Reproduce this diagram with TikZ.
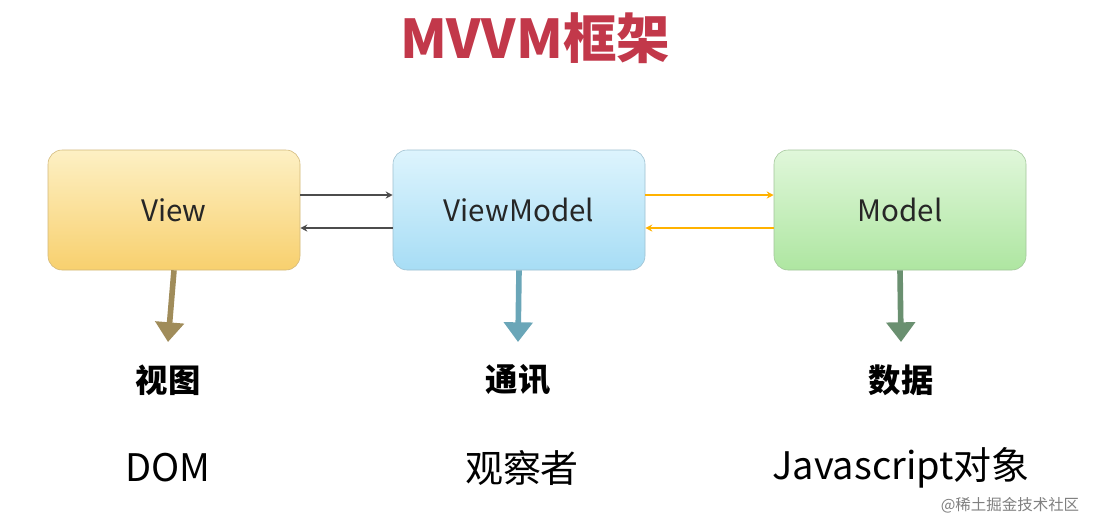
\documentclass[tikz,border=0pt]{standalone}
\usepackage{fontspec}
\setmainfont{Noto Sans CJK SC}
\usetikzlibrary{arrows.meta}
\definecolor{titler}{HTML}{C2384A}
\definecolor{ytop}{HTML}{FDF0C4}\definecolor{ybot}{HTML}{F8D06E}
\definecolor{btop}{HTML}{DDF4FD}\definecolor{bbot}{HTML}{A7DDF5}
\definecolor{gtop}{HTML}{E0F7DA}\definecolor{gbot}{HTML}{AEE6A1}
\tikzset{
  box/.style={rounded corners=10pt,minimum width=252*0.025cm,minimum height=120*0.025cm,font=\fontsize{21}{24}\selectfont,text=black!85},
  thin/.style={-{Stealth[length=5pt,width=5pt,open]},line width=0.8pt},
  down/.style={line width=4pt,-{Triangle[length=14pt,width=20pt]}},
  lab/.style={font=\fontsize{23}{26}\selectfont\bfseries},
  lab2/.style={font=\fontsize{27}{30}\selectfont}
}
\begin{document}
\begin{tikzpicture}[x=0.025cm,y=-0.025cm]
\useasboundingbox[fill=white] (0,0) rectangle (1096,522);
\node[font=\fontsize{38}{40}\selectfont\bfseries,text=titler] (t) at (535,38) {MVVM框架};
\node[box,draw=ybot!80!black!80,top color=ytop,bottom color=ybot] (v) at (174,210) {View};
\node[box,draw=bbot!80!black!80,top color=btop,bottom color=bbot] (vm) at (519,210) {ViewModel};
\node[box,draw=gbot!80!black!80,top color=gtop,bottom color=gbot] (m) at (900,210) {Model};
\draw[thin,draw=black!70] ([yshift=15*0.025cm]v.east) -- ([yshift=15*0.025cm]vm.west);
\draw[thin,draw=black!70] ([yshift=-18*0.025cm]vm.west) -- ([yshift=-18*0.025cm]v.east);
\draw[thin,draw=orange!60!yellow] ([yshift=15*0.025cm]vm.east) -- ([yshift=15*0.025cm]m.west);
\draw[thin,draw=orange!60!yellow] ([yshift=-18*0.025cm]m.west) -- ([yshift=-18*0.025cm]vm.east);
\node[lab] (a1) at (168,380) {视图};
\node[lab] (a2) at (518,380) {通讯};
\node[lab] (a3) at (901,380) {数据};
\draw[down,draw={rgb,255:red,160;green,140;blue,90}] (v.south) -- (168,342);
\draw[down,draw={rgb,255:red,106;green,166;blue,184}] (vm.south) -- (518,342);
\draw[down,draw={rgb,255:red,106;green,144;blue,112}] (m.south) -- (901,342);
\node[lab2] (b1) at (168,468) {DOM};
\node[lab2] (b2) at (522,468) {观察者};
\node[lab2] (b3) at (901,468) {Javascript对象};
\node[font=\fontsize{11}{12}\selectfont,text=black!50] (w) at (1010,505) {@稀土掘金技术社区};
\end{tikzpicture}
\end{document}
